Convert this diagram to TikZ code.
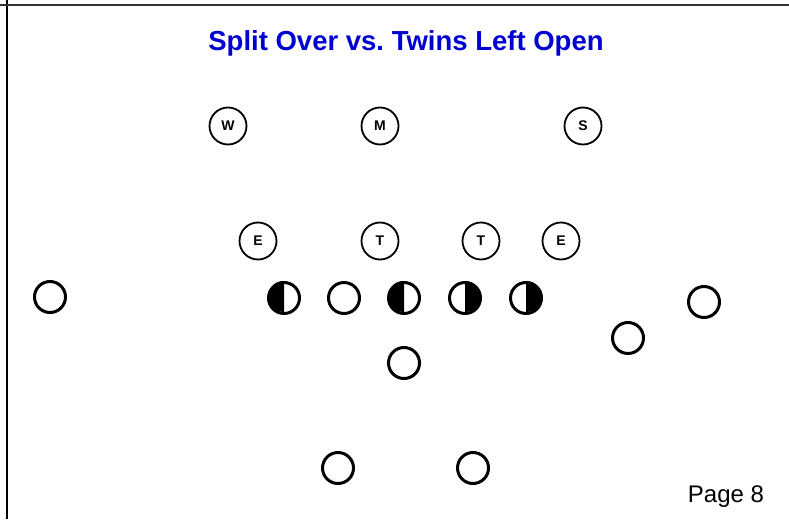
\documentclass[tikz,border=0pt]{standalone}
\usepackage{fontspec}
\setmainfont{Liberation Sans}
\definecolor{titleblue}{RGB}{0,0,210}
\begin{document}
\begin{tikzpicture}[x=1pt,y=-1pt,
  offense/.style={circle,draw,line width=3pt,minimum size=31pt,inner sep=0pt},
  defense/.style={circle,draw,line width=1.8pt,minimum size=37pt,inner sep=0pt,
    font=\fontsize{14}{14}\selectfont\bfseries}]
  \useasboundingbox (0,0) rectangle (789,519);
  % page frame
  \draw[line width=2pt] (6.5,0) -- (6.5,519);
  \draw[line width=2.5pt,black!80] (0,5) -- (789,5);
  % title
  \node[text=titleblue,font=\fontsize{27.5}{30}\selectfont\bfseries] (title) at (406,43.5) {Split Over vs.\ Twins Left Open};
  % linebackers
  \node[defense] (wlb) at (228,126) {W};
  \node[defense] (mlb) at (380,126) {M};
  \node[defense] (slb) at (583,126) {S};
  % defensive line
  \node[defense] (lde) at (258,241) {E};
  \node[defense] (ldt) at (380,241) {T};
  \node[defense] (rdt) at (481,241) {T};
  \node[defense] (rde) at (561,241) {E};
  % offensive line
  \node[offense] (lt) at (284,298) {};
  \node[offense] (lg) at (344,298) {};
  \node[offense] (ctr) at (404,298) {};
  \node[offense] (rg) at (465,298) {};
  \node[offense] (rt) at (526,298) {};
  % shaded halves
  \fill (lt.north) arc[start angle=90,end angle=270,radius=15.5pt] -- cycle;
  \fill (ctr.north) arc[start angle=90,end angle=270,radius=15.5pt] -- cycle;
  \fill (rg.north) arc[start angle=90,end angle=-90,radius=15.5pt] -- cycle;
  \fill (rt.north) arc[start angle=90,end angle=-90,radius=15.5pt] -- cycle;
  % receivers
  \node[offense] (xrec) at (50,297) {};
  \node[offense] (zrec) at (704,302) {};
  \node[offense] (slot) at (628,338) {};
  % backfield
  \node[offense] (qb) at (404,363) {};
  \node[offense] (lhb) at (338,468) {};
  \node[offense] (rhb) at (473,468) {};
  % page number
  \node[font=\fontsize{24}{26}\selectfont] (page) at (726,497) {Page 8};
\end{tikzpicture}
\end{document}
